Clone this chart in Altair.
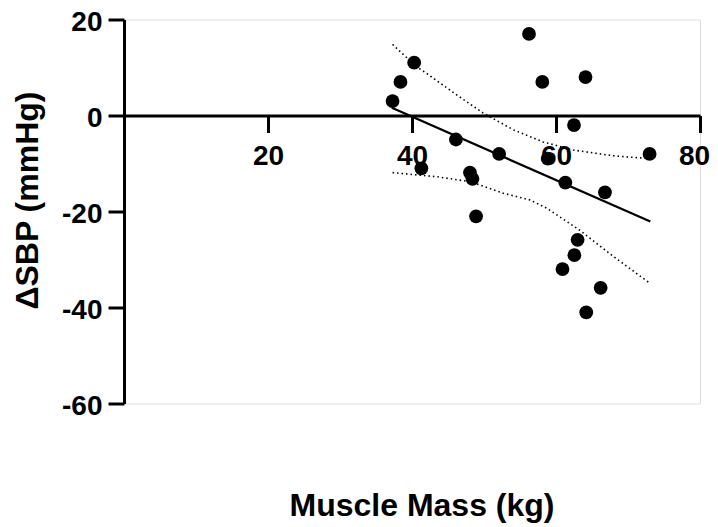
import altair as alt
import pandas as pd

# Scatter data (muscle mass in kg, change in SBP in mmHg)
mass = [37.3, 38.4, 40.3, 41.3, 56.25, 58.1, 64.1, 62.5, 46.1, 52.1, 58.85,
        73.0, 48.05, 48.4, 61.3, 66.8, 48.9, 63.0, 62.55, 60.9, 66.2, 64.2]
dsbp = [3.0, 7.0, 11.0, -11.0, 17.0, 7.0, 8.0, -2.0, -5.0, -8.0, -9.0,
        -8.0, -11.9, -13.2, -14.0, -16.0, -21.0, -25.9, -29.1, -32.0, -35.9, -41.0]

# Regression line
fit_x = [37.2, 73.1]
fit_y = [1.6, -22.1]

# 95% confidence band (dotted)
upper_x = [37.3, 40.6, 42.0, 46.2, 49.9, 54.1, 58.2, 62.4, 68.0, 73.1]
upper_y = [14.8, 10.2, 8.8, 4.3, 0.5, -3.0, -5.5, -7.2, -8.4, -9.0]
lower_x = [37.3, 43.4, 48.1, 52.7, 56.4, 58.7, 63.3, 68.0, 73.1]
lower_y = [-11.9, -12.75, -13.8, -16.2, -17.6, -19.3, -23.9, -29.4, -35.0]

x_ticks = [20, 40, 60, 80]
y_ticks = [-60, -40, -20, 0, 20]

FONT = "Liberation Sans"
W, H = 576, 384

pts = pd.DataFrame({"mass": mass, "dsbp": dsbp})
fit = pd.DataFrame({"mass": fit_x, "dsbp": fit_y})
band = pd.DataFrame({
    "mass": upper_x + lower_x,
    "dsbp": upper_y + lower_y,
    "band": ["upper"] * len(upper_x) + ["lower"] * len(lower_x),
})

xscale = alt.Scale(domain=[0, 80], nice=False, zero=False)
yscale = alt.Scale(domain=[-60, 20], nice=False)

x_axis = alt.Axis(
    values=x_ticks, orient="bottom", offset=-288, grid=False,
    domainWidth=3, tickWidth=3, tickSize=17, domainColor="black", tickColor="black",
    labelFont=FONT, labelFontSize=28, labelFontWeight="bold", labelColor="black",
    labelBaseline="alphabetic", labelPadding=31.5, labelFlush=False, labelOverlap=False,
    labelExpr="'' + datum.value",
    labelOffset={"expr": "datum.value == 80 ? -6 : 0"},
    title="Muscle Mass (kg)", titleFont=FONT, titleFontSize=32, titleFontWeight="bold",
    titleColor="black", titleX=297.5, titleY=400, titleBaseline="alphabetic",
    titleAlign="center",
)
y_axis = alt.Axis(
    values=y_ticks, orient="left", grid=False,
    domainWidth=3, tickWidth=3, tickSize=16, domainColor="black", tickColor="black",
    labelFont=FONT, labelFontSize=28, labelFontWeight="bold", labelColor="black",
    labelPadding=6, labelFlush=False, labelOverlap=False,
    labelBaseline="alphabetic", labelOffset=10.5,
    labelExpr="'' + datum.value",
    title="ΔSBP (mmHg)", titleFont=FONT, titleFontSize=32, titleFontWeight="bold",
    titleColor="black", titleX=-87, titleY=180.5, titleAngle=270,
    titleBaseline="alphabetic", titleAlign="center",
)

points = alt.Chart(pts).mark_circle(size=190, color="black", opacity=1).encode(
    x=alt.X("mass:Q", scale=xscale, axis=x_axis),
    y=alt.Y("dsbp:Q", scale=yscale, axis=y_axis),
)

bands = alt.Chart(band).mark_line(color="black", strokeWidth=1.6, strokeDash=[1.5, 3]).encode(
    x=alt.X("mass:Q", scale=xscale),
    y=alt.Y("dsbp:Q", scale=yscale),
    detail="band:N",
)

line = alt.Chart(fit).mark_line(color="black", strokeWidth=2.2).encode(
    x=alt.X("mass:Q", scale=xscale),
    y=alt.Y("dsbp:Q", scale=yscale),
)

chart = alt.layer(bands, line, points).properties(
    width=W, height=H,
    padding={"left": 116, "top": 11.5, "right": 10, "bottom": 119},
    autosize=alt.AutoSizeParams(type="none"),
).configure_view(stroke=None).configure(background="white")

chart.save("out.html", embed_options={"renderer": "svg", "actions": False})
